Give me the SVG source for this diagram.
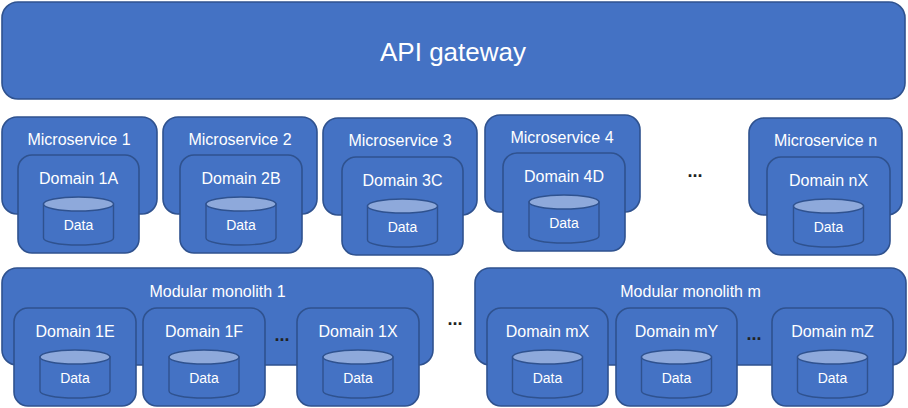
<svg xmlns="http://www.w3.org/2000/svg" width="908" height="408" viewBox="0 0 908 408">
<style>
.box{fill:#4472C4;stroke:#2F528F;stroke-width:1.6}
.t{font-family:"Liberation Sans","Open Sans",sans-serif;fill:#fff;text-anchor:middle}
.big{font-size:26px}
.lbl{font-size:16px}
.dt{font-size:14px}
.cylb{fill:#4472C4;stroke:#2F528F;stroke-width:1.4}
.cylt{fill:#8EA9DB;stroke:#2F528F;stroke-width:1.4}
.dots{font-family:"Liberation Sans",sans-serif;font-size:18px;font-weight:bold;fill:#222;text-anchor:middle}
</style>
<defs>
<g id="cyl">
<path class="cylb" d="M-35 0 V34 A35 7 0 0 0 35 34 V0 Z"/>
<ellipse class="cylt" cx="0" cy="0" rx="35" ry="7"/>
<text class="t dt" x="0" y="26">Data</text>
</g>
</defs>
<rect width="908" height="408" fill="#fff"/>
<g id="api">
<rect class="box" x="2" y="2" width="903" height="97" rx="16"/>
<text class="t big" x="453" y="61">API gateway</text>
</g>
<g id="ms1">
<rect class="box" x="2" y="117" width="155" height="97" rx="15"/>
<text class="t lbl" x="79" y="145">Microservice 1</text>
<g id="d1A">
<rect class="box" x="18" y="155" width="121" height="98" rx="14"/>
<text class="t lbl" x="78.5" y="184">Domain 1A</text>
<use href="#cyl" x="78.5" y="204"/>
</g>
</g>
<g id="ms2">
<rect class="box" x="163" y="117" width="154" height="97" rx="15"/>
<text class="t lbl" x="240" y="145">Microservice 2</text>
<g id="d2B">
<rect class="box" x="180" y="155" width="122" height="98" rx="14"/>
<text class="t lbl" x="241" y="184">Domain 2B</text>
<use href="#cyl" x="241" y="204"/>
</g>
</g>
<g id="ms3">
<rect class="box" x="323" y="118" width="154" height="97" rx="15"/>
<text class="t lbl" x="400" y="146">Microservice 3</text>
<g id="d3C">
<rect class="box" x="342" y="157" width="121" height="98" rx="14"/>
<text class="t lbl" x="402.5" y="186">Domain 3C</text>
<use href="#cyl" x="402.5" y="206"/>
</g>
</g>
<g id="ms4">
<rect class="box" x="485" y="115" width="155" height="97" rx="15"/>
<text class="t lbl" x="562" y="143">Microservice 4</text>
<g id="d4D">
<rect class="box" x="503" y="153" width="122" height="98" rx="14"/>
<text class="t lbl" x="564" y="182">Domain 4D</text>
<use href="#cyl" x="564" y="202"/>
</g>
</g>
<g id="msn">
<rect class="box" x="749" y="118" width="153" height="97" rx="15"/>
<text class="t lbl" x="825.5" y="146">Microservice n</text>
<g id="dnX">
<rect class="box" x="767" y="157" width="123" height="98" rx="14"/>
<text class="t lbl" x="828.5" y="186">Domain nX</text>
<use href="#cyl" x="828.5" y="206"/>
</g>
</g>
<g id="mm1">
<rect class="box" x="2" y="268" width="431" height="97" rx="15"/>
<text class="t lbl" x="217.5" y="297">Modular monolith 1</text>
<g id="d1E">
<rect class="box" x="14" y="308" width="122" height="98" rx="14"/>
<text class="t lbl" x="75" y="337">Domain 1E</text>
<use href="#cyl" x="75" y="357"/>
</g>
<g id="d1F">
<rect class="box" x="143" y="308" width="122" height="98" rx="14"/>
<text class="t lbl" x="204" y="337">Domain 1F</text>
<use href="#cyl" x="204" y="357"/>
</g>
<g id="d1X">
<rect class="box" x="297" y="308" width="122" height="98" rx="14"/>
<text class="t lbl" x="358" y="337">Domain 1X</text>
<use href="#cyl" x="358" y="357"/>
</g>
</g>
<g id="mmm">
<rect class="box" x="475" y="268" width="431" height="97" rx="15"/>
<text class="t lbl" x="690.5" y="297">Modular monolith m</text>
<g id="dmX">
<rect class="box" x="487" y="308" width="121" height="98" rx="14"/>
<text class="t lbl" x="547.5" y="337">Domain mX</text>
<use href="#cyl" x="547.5" y="357"/>
</g>
<g id="dmY">
<rect class="box" x="616" y="308" width="121" height="98" rx="14"/>
<text class="t lbl" x="676.5" y="337">Domain mY</text>
<use href="#cyl" x="676.5" y="357"/>
</g>
<g id="dmZ">
<rect class="box" x="772" y="308" width="121" height="98" rx="14"/>
<text class="t lbl" x="832.5" y="337">Domain mZ</text>
<use href="#cyl" x="832.5" y="357"/>
</g>
</g>
<g id="connectors"/>
<g id="ellipses">
<text class="dots" x="695" y="177">...</text>
<text class="dots" x="282" y="341">...</text>
<text class="dots" x="455" y="325">...</text>
<text class="dots" x="754" y="340">...</text>
</g>
</svg>
